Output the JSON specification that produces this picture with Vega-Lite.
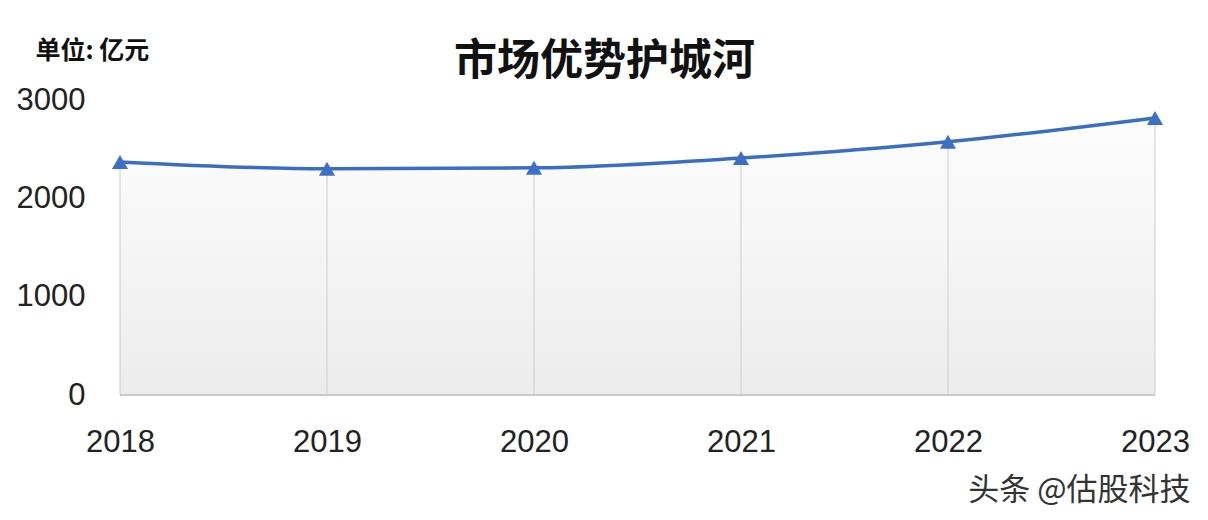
{
  "$schema": "https://vega.github.io/schema/vega-lite/v6.json",
  "autosize": {"type": "none"},
  "padding": {"left": 120, "top": 100, "right": 53, "bottom": 125},
  "width": 1035,
  "height": 295,
  "background": "#ffffff",
  "title": {
    "text": "市场优势护城河",
    "font": "Noto Sans CJK SC",
    "fontSize": 43,
    "fontWeight": "bold",
    "color": "#111111",
    "anchor": "middle",
    "frame": "group",
    "dx": -33,
    "dy": 64,
    "offset": 18
  },
  "config": {
    "view": {"stroke": null},
    "font": "Liberation Sans"
  },
  "data": {
    "values": [
      {"year": "2018", "value": 2370},
      {"year": "2019", "value": 2300},
      {"year": "2020", "value": 2310},
      {"year": "2021", "value": 2410},
      {"year": "2022", "value": 2575},
      {"year": "2023", "value": 2818}
    ]
  },
  "encoding": {
    "x": {
      "field": "year",
      "type": "ordinal",
      "scale": {"type": "point", "padding": 0},
      "axis": {
        "title": "头条 @估股科技",
        "titleFont": "Noto Sans CJK SC",
        "titleFontSize": 31,
        "titleFontWeight": "normal",
        "titleColor": "#333333",
        "titleX": 1070,
        "titleY": 95,
        "titleAlign": "right",
        "titleBaseline": "middle",
        "labelAngle": 0,
        "labelFontSize": 31,
        "labelColor": "#222222",
        "labelPadding": 32,
        "ticks": false,
        "domain": false,
        "grid": false
      }
    },
    "y": {
      "field": "value",
      "type": "quantitative",
      "scale": {"domain": [0, 3000], "nice": false},
      "axis": {
        "values": [0, 1000, 2000, 3000],
        "format": "d",
        "title": "单位: 亿元",
        "titleFont": "Noto Sans CJK SC",
        "titleFontSize": 25,
        "titleFontWeight": "bold",
        "titleColor": "#111111",
        "titleAngle": 0,
        "titleX": -85,
        "titleY": -50,
        "titleAlign": "left",
        "titleBaseline": "middle",
        "labelFontSize": 31,
        "labelColor": "#222222",
        "labelPadding": 35,
        "ticks": false,
        "domain": false,
        "grid": false
      }
    }
  },
  "layer": [
    {
      "mark": {
        "type": "area",
        "interpolate": "monotone",
        "fill": {
          "x1": 0, "y1": 0, "x2": 0, "y2": 1,
          "gradient": "linear",
          "stops": [
            {"offset": 0, "color": "#fdfdfd"},
            {"offset": 1, "color": "#ececec"}
          ]
        }
      }
    },
    {
      "mark": {"type": "rule", "color": "#cccccc", "strokeWidth": 1},
      "encoding": {"y2": {"datum": 0}}
    },
    {
      "mark": {"type": "rule", "color": "#c8c8c8", "strokeWidth": 1.5},
      "encoding": {"y": {"datum": 0}, "x": {"datum": "2018"}, "x2": {"datum": "2023"}}
    },
    {
      "mark": {"type": "line", "interpolate": "monotone", "color": "#3a6ec4", "strokeWidth": 3.5}
    },
    {
      "mark": {"type": "point", "shape": "triangle-up", "filled": true, "opacity": 1, "size": 260, "color": "#3d6fc6"}
    }
  ]
}
